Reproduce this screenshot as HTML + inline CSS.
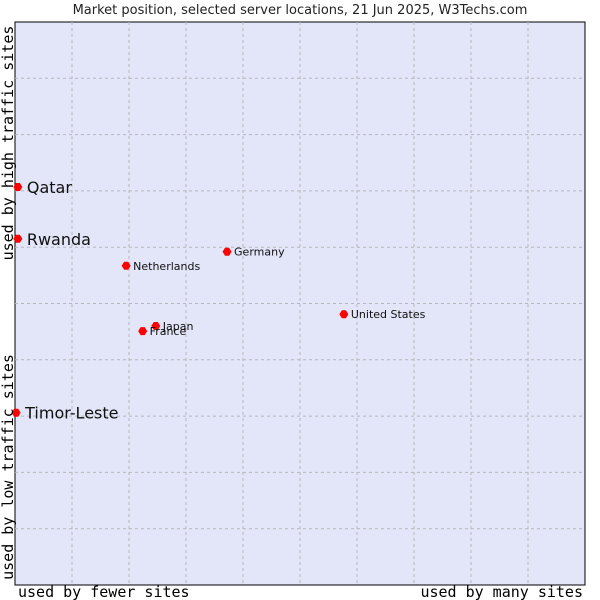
<!DOCTYPE html>
<html><head><meta charset="utf-8"><style>
body{margin:0;background:#fff;width:600px;height:600px;overflow:hidden}
svg{display:block;font-family:"DejaVu Sans","Liberation Sans",sans-serif}
</style></head><body>
<svg id="c" width="600" height="600">
<text x="300" y="14" text-anchor="middle" font-size="13" fill="#222">Market position, selected server locations, 21 Jun 2025, W3Techs.com</text>
<rect x="15" y="22" width="570" height="563" fill="#e3e5f8" stroke="#000" stroke-width="1"/>
<g id="grid"></g>
<g id="pts"></g>
<text transform="translate(13,143) rotate(-90)" text-anchor="middle" font-family="'DejaVu Sans Mono','Liberation Mono',monospace" font-size="15" fill="#000">used by high traffic sites</text>
<text transform="translate(13,467) rotate(-90)" text-anchor="middle" font-family="'DejaVu Sans Mono','Liberation Mono',monospace" font-size="15" fill="#000">used by low traffic sites</text>
<text x="18" y="597" font-family="'DejaVu Sans Mono','Liberation Mono',monospace" font-size="15" fill="#000">used by fewer sites</text>
<text x="583" y="597" text-anchor="end" font-family="'DejaVu Sans Mono','Liberation Mono',monospace" font-size="15" fill="#000">used by many sites</text>
</svg>
<script>
const names=["Qatar","Rwanda","Timor-Leste","Netherlands","Germany","United States","Japan","France"];
const xs=[0.5,0.5,0.2,19.5,37.2,57.7,24.7,22.4];
const ys=[70.7,61.5,30.6,56.7,59.2,48.1,46.0,45.1];
const big=[true,true,true,false,false,false,false,false];
const X0=15,W=570,Y0=22,H=563;
const sx=v=>X0+v/100*W, sy=v=>Y0+H-v/100*H;
const NS="http://www.w3.org/2000/svg";
const g=document.getElementById('grid'),p=document.getElementById('pts');
for(let i=1;i<10;i++){
 const l=document.createElementNS(NS,'line');
 
 
 l.setAttribute('x1',sx(i*10));l.setAttribute('x2',sx(i*10));l.setAttribute('y1',Y0);l.setAttribute('y2',Y0+H);
 l.setAttribute('stroke','#b8b8b8');l.setAttribute('stroke-dasharray','3,3');g.appendChild(l);
 const h=document.createElementNS(NS,'line');
 
 
 h.setAttribute('y1',sy(i*10));h.setAttribute('y2',sy(i*10));h.setAttribute('x1',X0);h.setAttribute('x2',X0+W);
 h.setAttribute('stroke','#b8b8b8');h.setAttribute('stroke-dasharray','3,3');g.appendChild(h);
}
names.forEach((n,i)=>{
 const cx=sx(xs[i]),cy=sy(ys[i]);
 const d=document.createElementNS(NS,'path');
 
 
 d.setAttribute('d',`M${cx-4.5},${cy} L${cx-2},${cy-4} L${cx+2},${cy-4} L${cx+4.5},${cy} L${cx+2},${cy+4} L${cx-2},${cy+4}Z`);
 d.setAttribute('fill','#ff0000');p.appendChild(d);
 const t=document.createElementNS(NS,'text');
 
 
 t.setAttribute('x',cx+(big[i]?9:7));t.setAttribute('y',cy+(big[i]?6:4));
 t.setAttribute('font-size',big[i]?16:11);t.setAttribute('fill','#111');
 t.textContent=n;p.appendChild(t);
});
</script>
</body></html>
